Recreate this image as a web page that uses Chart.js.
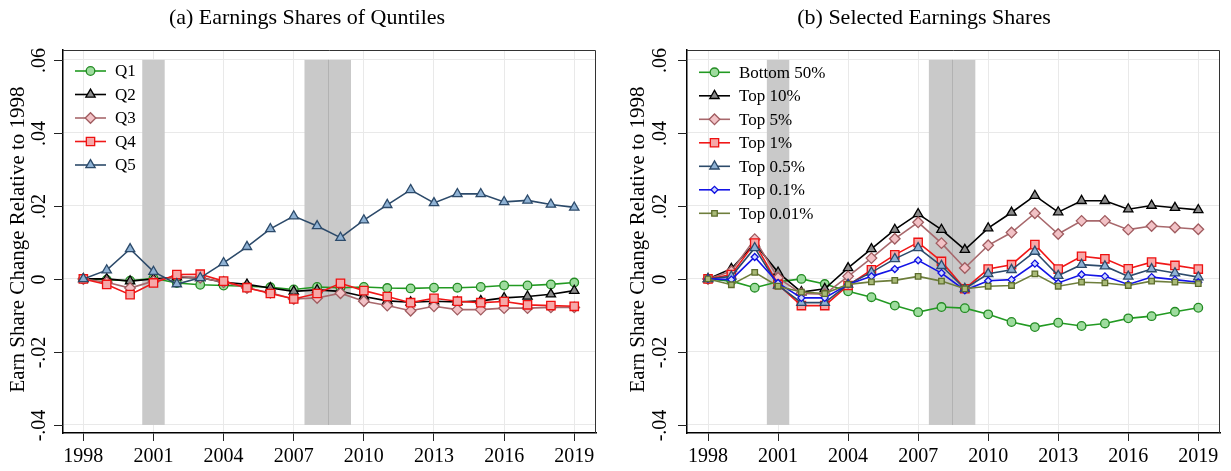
<!DOCTYPE html>
<html><head><meta charset="utf-8">
<script src="https://cdn.jsdelivr.net/npm/chart.js@4.4.1/dist/chart.umd.min.js"></script>
<style>
html,body{margin:0;padding:0;background:#fff;overflow:hidden}
#wrap{position:relative;width:1231px;height:471px;background:#fff}
canvas{position:absolute;top:0}
</style></head><body>
<div id="wrap">
<canvas id="c1" width="615" height="471" style="left:0"></canvas>
<canvas id="c2" width="616" height="471" style="left:615px"></canvas>
</div>
<script>
// ---------- data ----------
const years = [1998,1999,2000,2001,2002,2003,2004,2005,2006,2007,2008,2009,2010,2011,2012,2013,2014,2015,2016,2017,2018,2019];
const xTickValues = [1998,2001,2004,2007,2010,2013,2016,2019];
const yTickValues = [-0.04,-0.02,0,0.02,0.04,0.06];
const yTickLabels = ['-.04','-.02','0','.02','.04','.06'];
const recessionStart = [2000.52, 2007.46, 2008.47];
const recessionEnd   = [2001.48, 2008.47, 2009.45];
const shadeTop = 0.06, shadeBottom = -0.04;

const titleA = '(a) Earnings Shares of Quntiles';
const titleB = '(b) Selected Earnings Shares';
const yAxisTitle = 'Earn Share Change Relative to 1998';

// Panel (a): quintiles
const labelsA = ['Q1','Q2','Q3','Q4','Q5'];
const q1 = [0,-0.0002,-0.0005,0.0002,-0.0011,-0.0016,-0.0018,-0.0020,-0.0023,-0.0029,-0.0022,-0.0024,-0.0022,-0.0025,-0.0026,-0.0024,-0.0024,-0.0022,-0.0018,-0.0018,-0.0015,-0.0010];
const q2 = [0,0.0000,-0.0006,0.0000,0.0005,0.0003,-0.0009,-0.0015,-0.0025,-0.0034,-0.0030,-0.0034,-0.0048,-0.0060,-0.0064,-0.0061,-0.0063,-0.0060,-0.0052,-0.0048,-0.0042,-0.0032];
const q3 = [0,-0.0009,-0.0025,-0.0006,0.0007,0.0003,-0.0009,-0.0025,-0.0038,-0.0055,-0.0052,-0.0039,-0.0061,-0.0073,-0.0087,-0.0075,-0.0084,-0.0084,-0.0080,-0.0080,-0.0078,-0.0078];
const q4 = [0,-0.0015,-0.0043,-0.0011,0.0012,0.0013,-0.0006,-0.0024,-0.0040,-0.0055,-0.0040,-0.0012,-0.0032,-0.0048,-0.0065,-0.0053,-0.0061,-0.0065,-0.0062,-0.0071,-0.0073,-0.0075];
const q5 = [0,0.0024,0.0082,0.0020,-0.0014,0.0003,0.0044,0.0088,0.0137,0.0172,0.0145,0.0113,0.0161,0.0203,0.0244,0.0208,0.0233,0.0233,0.0211,0.0215,0.0204,0.0196];

// Panel (b): selected shares
const labelsB = ['Bottom 50%','Top 10%','Top 5%','Top 1%','Top 0.5%','Top 0.1%','Top 0.01%'];
const bottom50 = [0,-0.0006,-0.0024,-0.0008,0.0000,-0.0014,-0.0034,-0.0050,-0.0073,-0.0091,-0.0077,-0.0080,-0.0097,-0.0118,-0.0132,-0.0120,-0.0129,-0.0122,-0.0108,-0.0102,-0.0090,-0.0079];
const top10   = [0,0.0028,0.0097,0.0018,-0.0036,-0.0027,0.0030,0.0082,0.0135,0.0178,0.0135,0.0080,0.0139,0.0182,0.0228,0.0183,0.0214,0.0214,0.0191,0.0201,0.0195,0.0189];
const top5    = [0,0.0021,0.0109,0.0003,-0.0040,-0.0042,0.0007,0.0057,0.0110,0.0155,0.0098,0.0030,0.0092,0.0127,0.0180,0.0123,0.0159,0.0159,0.0135,0.0145,0.0141,0.0136];
const top1    = [0,0.0012,0.0098,-0.0015,-0.0073,-0.0073,-0.0018,0.0025,0.0066,0.0100,0.0048,-0.0027,0.0027,0.0039,0.0094,0.0027,0.0062,0.0055,0.0028,0.0046,0.0037,0.0027];
const top05   = [0,0.0007,0.0085,-0.0018,-0.0065,-0.0065,-0.0015,0.0018,0.0055,0.0085,0.0036,-0.0027,0.0014,0.0025,0.0075,0.0009,0.0039,0.0035,0.0007,0.0027,0.0016,0.0005];
const top01   = [0,-0.0002,0.0060,-0.0011,-0.0052,-0.0052,-0.0015,0.0007,0.0027,0.0051,0.0016,-0.0031,-0.0005,-0.0002,0.0042,-0.0011,0.0012,0.0007,-0.0015,0.0005,-0.0002,-0.0009];
const top001  = [0,-0.0016,0.0018,-0.0020,-0.0036,-0.0040,-0.0015,-0.0008,-0.0004,0.0007,-0.0006,-0.0027,-0.0020,-0.0018,0.0014,-0.0020,-0.0009,-0.0011,-0.0018,-0.0006,-0.0009,-0.0013];

// ---------- styles ----------
const STY = {
  green:  {line:'#229a22', fill:'#9edc9e', border:'#238b23', shape:'circle',   r:4.3},
  black:  {line:'#000000', fill:'#8c8c8c', border:'#000000', shape:'triangle', r:5.4},
  rose:   {line:'#a8686c', fill:'#f2c2c6', border:'#a05c60', shape:'rectRot',  r:5.3},
  red:    {line:'#f01818', fill:'#f6a8a8', border:'#ee1111', shape:'rect',     r:5.9},
  navy:   {line:'#2c4a6a', fill:'#8fb2d4', border:'#2c4a6a', shape:'triangle', r:5.4},
  blue:   {line:'#1414e6', fill:'#d0d8ff', border:'#1010e0', shape:'rectRot',  r:3.5},
  olive:  {line:'#6e7e3c', fill:'#a9ba78', border:'#5c6c2c', shape:'rect',     r:3.9}
};

const seriesA = [[labelsA[0],q1,'green'],[labelsA[1],q2,'black'],[labelsA[2],q3,'rose'],[labelsA[3],q4,'red'],[labelsA[4],q5,'navy']];
const seriesB = [[labelsB[0],bottom50,'green'],[labelsB[1],top10,'black'],[labelsB[2],top5,'rose'],[labelsB[3],top1,'red'],[labelsB[4],top05,'navy'],[labelsB[5],top01,'blue'],[labelsB[6],top001,'olive']];

const SERIF = '"Liberation Serif","Times New Roman",serif';

function makePanel(id, series, layout) {
  const canvas = document.getElementById(id);
  const W = canvas.width, H = canvas.height;
  const datasets = series.map((s, i) => {
    const st = STY[s[2]];
    return {
      label: s[0],
      data: years.map((y, k) => ({x: y, y: s[1][k]})),
      borderColor: st.line, borderWidth: 1.6,
      pointStyle: st.shape, pointRadius: st.r, pointHoverRadius: st.r,
      pointBackgroundColor: st.fill, pointBorderColor: st.border, pointBorderWidth: 1.3,
      fill: false, tension: 0, order: -i
    };
  });

  const decor = {
    id: 'decor',
    beforeDatasetsDraw(chart) {
      const ctx = chart.ctx, xs = chart.scales.x, ys = chart.scales.y;
      const yT = ys.getPixelForValue(shadeTop), yB = ys.getPixelForValue(shadeBottom);
      ctx.save();
      ctx.fillStyle = '#c9c9c9';
      for (let i = 0; i < recessionStart.length; i++) {
        const x0 = xs.getPixelForValue(recessionStart[i]), x1 = xs.getPixelForValue(recessionEnd[i]);
        ctx.fillRect(x0, yT, x1 - x0, yB - yT);
      }
      ctx.strokeStyle = '#b2b2b2'; ctx.lineWidth = 1;
      for (let i = 1; i < recessionStart.length; i++) {
        if (recessionStart[i] === recessionEnd[i-1]) {
          const x = Math.round(xs.getPixelForValue(recessionStart[i])) + 0.5;
          ctx.beginPath(); ctx.moveTo(x, yT); ctx.lineTo(x, yB); ctx.stroke();
        }
      }
      ctx.restore();
    },
    afterDraw(chart) {
      const ctx = chart.ctx, a = chart.chartArea, ys = chart.scales.y;
      ctx.save();
      // frame top/right
      ctx.strokeStyle = '#333'; ctx.lineWidth = 1;
      ctx.beginPath();
      ctx.moveTo(a.left, a.top + 0.5); ctx.lineTo(a.right - 0.5, a.top + 0.5); ctx.lineTo(a.right - 0.5, a.bottom);
      ctx.stroke();
      // y ticks + rotated labels
      ctx.strokeStyle = '#222'; ctx.lineWidth = 1;
      ctx.fillStyle = '#000';
      ctx.font = '20px ' + SERIF;
      ctx.textAlign = 'center'; ctx.textBaseline = 'middle';
      yTickValues.forEach((v, i) => {
        const y = Math.round(ys.getPixelForValue(v)) + 0.5;
        ctx.beginPath(); ctx.moveTo(a.left - 9, y); ctx.lineTo(a.left, y); ctx.stroke();
        ctx.save(); ctx.translate(layout.tickLabelX, y); ctx.rotate(-Math.PI/2);
        ctx.fillText(yTickLabels[i], 0, 0); ctx.restore();
      });
      // y axis title
      ctx.font = '21px ' + SERIF;
      ctx.save(); ctx.translate(layout.yTitleX, (a.top + a.bottom) / 2 - 2); ctx.rotate(-Math.PI/2);
      ctx.fillText(yAxisTitle, 0, 0); ctx.restore();
      // title
      ctx.font = '22px ' + SERIF;
      ctx.fillText(layout.title, layout.titleX, 18);
      // legend
      ctx.font = '17px ' + SERIF;
      ctx.textAlign = 'left';
      series.forEach((s, i) => {
        const st = STY[s[2]];
        const y = layout.legendTop + i * 23.5;
        ctx.strokeStyle = st.line; ctx.lineWidth = 1.6;
        ctx.beginPath(); ctx.moveTo(layout.legendX, y); ctx.lineTo(layout.legendX + 31, y); ctx.stroke();
        ctx.fillStyle = st.fill; ctx.strokeStyle = st.border; ctx.lineWidth = 1.3;
        Chart.helpers.drawPoint(ctx, {pointStyle: st.shape, radius: st.r, borderWidth: 1.3, rotation: 0}, layout.legendX + 15.5, y);
        ctx.fillStyle = '#000';
        ctx.fillText(s[0], layout.legendX + 40, y + 1);
      });
      ctx.restore();
    }
  };

  return new Chart(canvas, {
    type: 'line',
    data: {datasets},
    plugins: [decor],
    options: {
      responsive: false, animation: false, devicePixelRatio: 1,
      layout: {padding: {left: 0, top: layout.top, right: W - layout.right, bottom: 0}},
      plugins: {legend: {display: false}, tooltip: {enabled: false}, title: {display: false}},
      scales: {
        x: {
          type: 'linear', min: layout.xMin, max: layout.xMax,
          afterBuildTicks: s => { s.ticks = xTickValues.map(v => ({value: v})); },
          afterFit: s => { s.height = H - layout.bottom; },
          ticks: {callback: v => String(v), font: {family: SERIF, size: 20}, color: '#000', padding: 4, maxRotation: 0, autoSkip: false},
          grid: {color: '#e9e9e9', lineWidth: 1, drawTicks: true, tickLength: 8, tickColor: '#222'},
          border: {color: '#000', width: 1.5}
        },
        y: {
          type: 'linear', min: -0.0422, max: 0.0627,
          afterBuildTicks: s => { s.ticks = yTickValues.map(v => ({value: v})); },
          afterFit: s => { s.width = layout.left; },
          ticks: {display: false},
          grid: {color: '#e9e9e9', lineWidth: 1, drawTicks: false},
          border: {color: '#000', width: 1.5}
        }
      }
    }
  });
}

makePanel('c1', seriesA, {left: 63, right: 596, top: 50, bottom: 433, xMin: 1997.13, xMax: 2019.93,
  tickLabelX: 40, yTitleX: 18, titleX: 307, title: titleA, legendX: 75, legendTop: 71});
makePanel('c2', seriesB, {left: 72, right: 605, top: 50, bottom: 433, xMin: 1997.10, xMax: 2019.93,
  tickLabelX: 46, yTitleX: 23, titleX: 309, title: titleB, legendX: 84, legendTop: 72.3});
</script>
</body></html>
